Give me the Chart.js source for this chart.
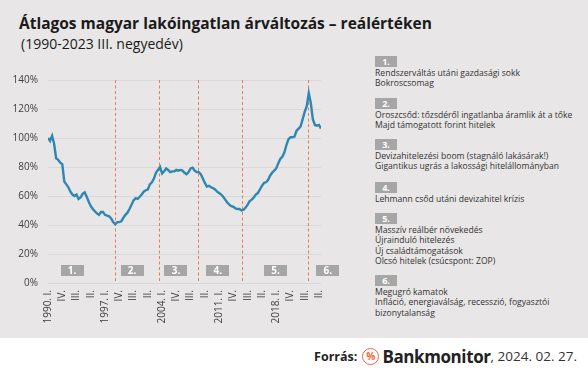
<!DOCTYPE html>
<html>
<head>
<meta charset="utf-8">
<script src="https://cdn.jsdelivr.net/npm/chart.js@4.4.1/dist/chart.umd.min.js"></script>
<style>
  html, body { margin: 0; padding: 0; }
  body { width: 588px; height: 370px; position: relative; overflow: hidden; background: #fff; font-family: "Open Sans", sans-serif; }
  #panel { position: absolute; left: 0; top: 0; width: 588px; height: 338px; background: #e8e6e6; }
  #title { position: absolute; left: 19px; top: 12px; font-size: 15.5px; font-weight: 700; color: #1a1a1a; white-space: nowrap; }
  #subtitle { position: absolute; left: 21px; top: 34px; font-size: 14px; color: #1a1a1a; white-space: nowrap; }
  #chartWrap { position: absolute; left: 0; top: 0; width: 340px; height: 338px; }
  .note { position: absolute; left: 375px; font-size: 8.6px; line-height: 10.5px; color: #333; white-space: nowrap; }
  .badge { display: block; width: 22px; height: 11px; background: #a6a6a6; color: #fff; font-weight: 700; font-size: 9px; line-height: 11px; text-align: center; margin-bottom: 0.5px; }
  #footer { position: absolute; right: 11px; top: 343px; height: 26px; display: flex; align-items: center; white-space: nowrap; color: #222; }
  #footer .src { font-weight: 700; font-size: 12.5px; margin-right: 5px; }
  #footer .ico { width: 15px; height: 15px; border: 1.6px solid #f0643c; border-radius: 50%; color: #f0643c; font-size: 10px; font-weight: 700; line-height: 15px; text-align: center; margin-right: 3px; }
  #footer .brand { font-weight: 700; font-size: 17px; letter-spacing: -0.4px; }
  #footer .date { font-size: 13.5px; color: #333; }
</style>
</head>
<body>
<div id="panel">
  <div id="title">Átlagos magyar lakóingatlan árváltozás – reálértéken</div>
  <div id="subtitle">(1990-2023 III. negyedév)</div>
  <div id="chartWrap"><canvas id="priceChart"></canvas></div>
  <div id="notes"></div>
</div>
<div id="footer">
  <span class="src">Forrás:</span><span class="ico">%</span><span class="brand">Bankmonitor</span><span class="date">, 2024. 02. 27.</span>
</div>
<script>
// real price index, quarterly, 1990 I. .. 2023 III. (1990 I. = 100%)
const realIndex = [
  100, 98, 101.5, 96, 86, 85, 83, 82, 70, 68,
  66, 63, 61, 60, 61, 58, 59, 61.5, 62.5, 59.5,
  56, 53, 51, 49.5, 48, 47, 49, 49, 47, 46.5,
  46, 44.5, 42, 40.5, 42, 42, 42.5, 45, 47, 48.5,
  51, 54, 57, 58.5, 58, 59.5, 61, 63, 64, 64.5,
  68, 69.5, 72, 76, 78, 80, 75.5, 77, 79, 78,
  76.5, 77, 77, 78, 77.5, 78, 77.5, 76, 75, 76.5,
  79, 79.5, 77.5, 76.5, 76.5, 75, 72, 69, 66.5, 67,
  66, 65.5, 64.5, 63, 62, 61, 59.5, 57.5, 55.5, 54,
  53, 52.5, 51.5, 51, 51, 50, 50.5, 52, 54, 56.5,
  57.5, 59, 61, 62, 64.5, 67, 69, 69.5, 71, 74,
  76, 77.5, 79, 82.5, 85.5, 87, 90, 95, 99, 100.5,
  100.5, 101, 105, 106.5, 108, 113, 118, 122, 131, 124,
  113, 109, 108.5, 109, 106.5
];

// one label every 7 quarters
const tickLabels = [
  "1990. I.", "IV.", "III.", "II.", "1997. I.", "IV.", "III.", "II.",
  "2004. I.", "IV.", "III.", "II.", "2011. I.", "IV.", "III.", "II.",
  "2018. I.", "IV.", "III.", "II."
];

// period boundaries (quarter index) and period badges
const breakQuarters = [33, 54.5, 73.5, 95, 127.5];
const periodNames = ["1.", "2.", "3.", "4.", "5.", "6."];
const periodCenters = [11.8, 41.3, 62.8, 83.3, 111.7, 137.3];

const periodNotes = [
  ["Rendszerváltás  utáni gazdasági  sokk", "Bokroscsomag"],
  ["Oroszcsőd: tőzsdéről ingatlanba áramlik át a tőke", "Majd támogatott forint hitelek"],
  ["Devizahitelezési  boom (stagnáló lakásárak!)", "Gigantikus ugrás a lakossági hitelállományban"],
  ["Lehmann csőd utáni devizahitel  krízis"],
  ["Masszív reálbér növekedés", "Újrainduló hitelezés", "Új családtámogatások", "Olcsó hitelek (csúcspont: ZOP)"],
  ["Megugró kamatok", "Infláció, energiaválság, recesszió, fogyasztói", "bizonytalanság"]
];
const noteTops = [56, 98, 139, 182, 213, 275];

// ---------- notes on the right ----------
const notesBox = document.getElementById("notes");
periodNotes.forEach((lines, i) => {
  const d = document.createElement("div");
  d.className = "note";
  d.style.top = noteTops[i] + "px";
  d.innerHTML = `<span class="badge">${periodNames[i]}</span>` + lines.join("<br>");
  notesBox.appendChild(d);
});

// ---------- chart ----------
const periodMarks = {
  id: "periodMarks",
  beforeDatasetsDraw(chart) {
    const { ctx, scales: { x, y } } = chart;
    ctx.save();
    ctx.strokeStyle = "#ec7a56";
    ctx.lineWidth = 1;
    ctx.setLineDash([3, 2.5]);
    breakQuarters.forEach(q => {
      const px = Math.round(x.getPixelForValue(q)) + 0.5;
      ctx.beginPath();
      ctx.moveTo(px, y.getPixelForValue(140));
      ctx.lineTo(px, y.getPixelForValue(0));
      ctx.stroke();
    });
    ctx.restore();
  },
  afterDatasetsDraw(chart) {
    const { ctx, scales: { x, y } } = chart;
    ctx.save();
    ctx.font = "bold 10px 'Open Sans'";
    ctx.textAlign = "center";
    ctx.textBaseline = "middle";
    periodCenters.forEach((q, i) => {
      const cx = x.getPixelForValue(q), cy = y.getPixelForValue(8.3);
      ctx.fillStyle = "#a6a6a6";
      ctx.fillRect(Math.round(cx - 11.5), Math.round(cy - 5.5), 23, 11);
      ctx.fillStyle = "#ffffff";
      ctx.fillText(periodNames[i], cx, cy + 0.5);
    });
    ctx.restore();
  }
};

new Chart(document.getElementById("priceChart"), {
  type: "line",
  data: {
    labels: realIndex.map((_, i) => i),
    datasets: [{
      data: realIndex.map((v, i) => ({ x: i, y: v })),
      borderColor: "#2f87b1",
      borderWidth: 2.4,
      pointRadius: 0,
      tension: 0,
      fill: false
    }]
  },
  options: {
    responsive: true,
    maintainAspectRatio: false,
    animation: false,
    layout: { padding: { left: 0, top: 80, right: 19, bottom: 0 } },
    plugins: { legend: { display: false }, tooltip: { enabled: false } },
    scales: {
      x: {
        type: "linear",
        min: 0,
        max: realIndex.length - 1,
        afterFit: s => { s.height = 55; },
        afterBuildTicks: s => { s.ticks = tickLabels.map((_, i) => ({ value: i * 7 })); },
        grid: { display: false, drawTicks: false },
        border: { display: false },
        ticks: {
          autoSkip: false,
          maxRotation: 90,
          minRotation: 90,
          padding: 7,
          color: "#404040",
          font: { family: "Open Sans", size: 10 },
          callback: v => tickLabels[v / 7]
        }
      },
      y: {
        min: 0,
        max: 140,
        afterFit: s => { s.width = 48; },
        grid: { color: "#dad8d8", drawTicks: false },
        border: { display: false },
        ticks: {
          stepSize: 20,
          padding: 10,
          color: "#404040",
          font: { family: "Open Sans", size: 10 },
          callback: v => v + "%"
        }
      }
    }
  },
  plugins: [periodMarks]
});
</script>
</body>
</html>
